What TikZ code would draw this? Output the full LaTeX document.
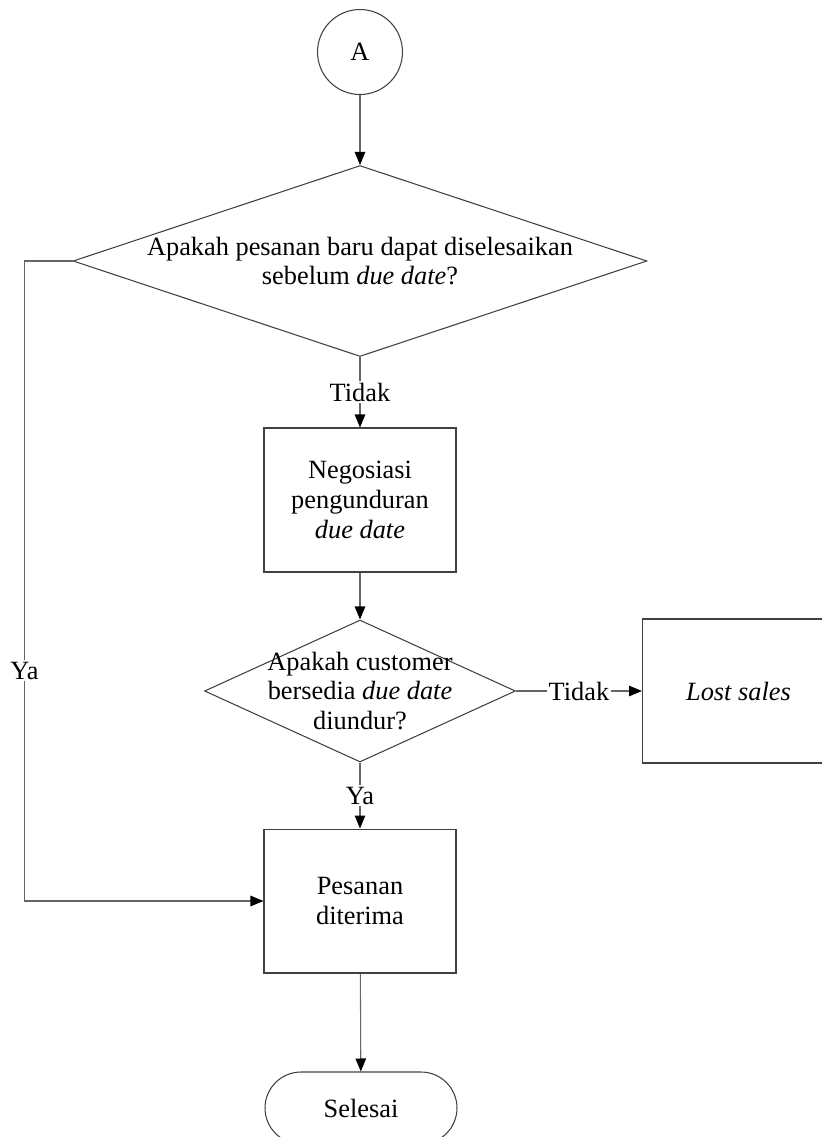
\documentclass[tikz,border=0pt]{standalone}
\usepackage{fontspec}
\setmainfont{Liberation Serif}
\usetikzlibrary{shapes.geometric,arrows.meta,positioning}

\begin{document}
\begin{tikzpicture}[x=0.02cm, y=-0.02cm, line width=0.6pt,
  every node/.style={font=\fontsize{15}{17}\selectfont},
  proc/.style={draw=black!75, minimum width=3.84cm, minimum height=2.88cm, align=center, inner sep=0pt},
  decide/.style={draw=black!75, diamond, inner sep=0pt},
  arr/.style={draw=black!60, -{Triangle[length=0.26cm, width=0.21cm, color=black]}},
  lbl/.style={fill=white, inner sep=1pt}]
  \useasboundingbox (0,0) rectangle (822,1137);
  \node[circle, draw=black!75, minimum size=1.7cm, inner sep=0pt] (mulai) at (360,52) {A};
  \node[decide, minimum width=11.48cm, minimum height=3.82cm,
    label={[align=center]center:{Apakah pesanan baru dapat diselesaikan\\sebelum \textit{due date}?}}]
    (cek1) at (360,261) {};
  \node[proc] (nego) at (360,500) {Negosiasi\\pengunduran\\\textit{due date}};
  \node[decide, minimum width=6.22cm, minimum height=2.84cm,
    label={[align=center]center:{Apakah customer\\bersedia \textit{due date}\\diundur?}}]
    (cek2) at (360,691) {};
  \node[proc, anchor=west] (lost) at (642,691) {\textit{Lost sales}};
  \node[proc] (terima) at (360,901) {Pesanan\\diterima};
  \node[draw=black!75, rounded corners=0.72cm, minimum width=3.84cm, minimum height=1.44cm]
    (selesai) at (361,1108) {Selesai};
  % alur utama
  \draw[arr] (mulai) -- (cek1);
  \draw[arr] (cek1) -- node[lbl] {Tidak} (nego);
  \draw[arr] (nego) -- (cek2);
  \draw[arr] (cek2) -- node[lbl] {Tidak} (lost);
  \draw[arr] (cek2) -- node[lbl] {Ya} (terima);
  \draw[arr] (cek1.west) -- ++(-48,0) |- (terima.west) node[lbl, pos=0.32] {Ya};
  \draw[arr] (terima) -- (selesai);
\end{tikzpicture}
\end{document}
